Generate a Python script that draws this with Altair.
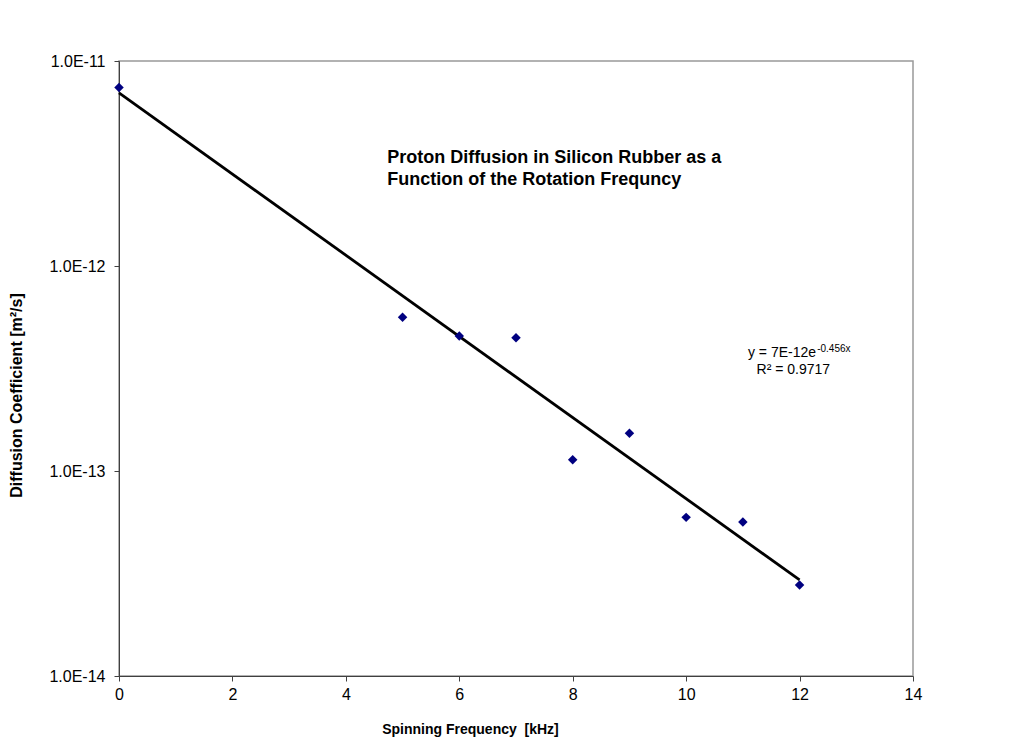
import altair as alt
import pandas as pd

freq = [0, 5, 6, 7, 8, 9, 10, 11, 12]
diff = [7.43e-12, 5.62e-13, 4.56e-13, 4.47e-13, 1.135e-13, 1.53e-13, 5.94e-14, 5.64e-14, 2.78e-14]

x_ticks = [0, 2, 4, 6, 8, 10, 12, 14]
y_ticks = [1e-14, 1e-13, 1e-12, 1e-11]

title_lines = ["Proton Diffusion in Silicon Rubber as a", "Function of the Rotation Frequncy"]
eq_main = "y = 7E-12e"
eq_sup = "-0.456x"
eq_r2 = "R² = 0.9717"

FONT = "Liberation Sans"

df = pd.DataFrame({"f": freq, "d": diff})

xs = alt.Scale(domain=[0, 14], nice=False)
ys = alt.Scale(type="log", domain=[1e-14, 1e-11], nice=False)

xax = alt.Axis(values=x_ticks, grid=False, format="d", title="Spinning Frequency\u00a0\u00a0[kHz]",
               titleFont=FONT, titleFontSize=14, titleFontWeight="bold", titleColor="black",
               titleX=351, titleY=53, titleBaseline="middle", titleAlign="center",
               labelFont=FONT, labelFontSize=16, labelColor="black", labelPadding=5,
               labelFlush=False, labelOverlap=False,
               domainColor="#404040", tickColor="#404040", tickSize=5)
yax = alt.Axis(values=y_ticks, grid=False, title="Diffusion Coefficient [m²/s]",
               labelExpr="'1.0E-' + round(-log(datum.value)/LN10)",
               titleFont=FONT, titleFontSize=16, titleFontWeight="bold", titleColor="black",
               titleX=-103, titleY=334, titleBaseline="middle", titleAlign="center", titleAngle=-90,
               labelFont=FONT, labelFontSize=16, labelColor="black", labelPadding=9,
               labelFlush=False, labelOverlap=False,
               domainColor="#404040", tickColor="#404040", tickSize=5)

base = alt.Chart(df)

points = base.mark_point(shape="diamond", filled=True, color="#000080", size=90, opacity=1).encode(
    x=alt.X("f:Q", scale=xs, axis=xax),
    y=alt.Y("d:Q", scale=ys, axis=yax),
)

trend = base.transform_calculate(ld="log(datum.d)").transform_regression(
    "f", "ld", method="linear", extent=[0, 12]
).transform_calculate(d="exp(datum.ld)").mark_line(color="black", strokeWidth=2.8).encode(
    x=alt.X("f:Q", scale=xs),
    y=alt.Y("d:Q", scale=ys),
)

tdf = pd.DataFrame({"x": [4.73], "y": [3.37e-12], "t": [title_lines]})
title_txt = alt.Chart(tdf).mark_text(align="left", baseline="middle", font=FONT, fontSize=18,
                                     fontWeight="bold", lineHeight=22, color="black").encode(
    x=alt.X("x:Q", scale=xs), y=alt.Y("y:Q", scale=ys), text="t")

edf = pd.DataFrame({"x": [11.09], "y": [3.77e-13], "t": [eq_main]})
eq1 = alt.Chart(edf).mark_text(align="left", baseline="middle", font=FONT, fontSize=14,
                               color="black").encode(
    x=alt.X("x:Q", scale=xs), y=alt.Y("y:Q", scale=ys), text="t")
sdf = pd.DataFrame({"x": [12.31], "y": [3.95e-13], "t": [eq_sup]})
eq2 = alt.Chart(sdf).mark_text(align="left", baseline="middle", font=FONT, fontSize=10,
                               color="black").encode(
    x=alt.X("x:Q", scale=xs), y=alt.Y("y:Q", scale=ys), text="t")
rdf = pd.DataFrame({"x": [11.89], "y": [3.1e-13], "t": [eq_r2]})
eq3 = alt.Chart(rdf).mark_text(align="center", baseline="middle", font=FONT, fontSize=14,
                               color="black").encode(
    x=alt.X("x:Q", scale=xs), y=alt.Y("y:Q", scale=ys), text="t")

chart = alt.layer(trend, points, title_txt, eq1, eq2, eq3).properties(
    width=794, height=615,
    autosize=alt.AutoSizeParams(type="none"),
    padding={"left": 111, "top": 53, "right": 95, "bottom": 68},
    background="white",
).configure_view(stroke="#999999", strokeWidth=1.5)

chart.save("out.html", embed_options={"renderer": "svg", "actions": False})
